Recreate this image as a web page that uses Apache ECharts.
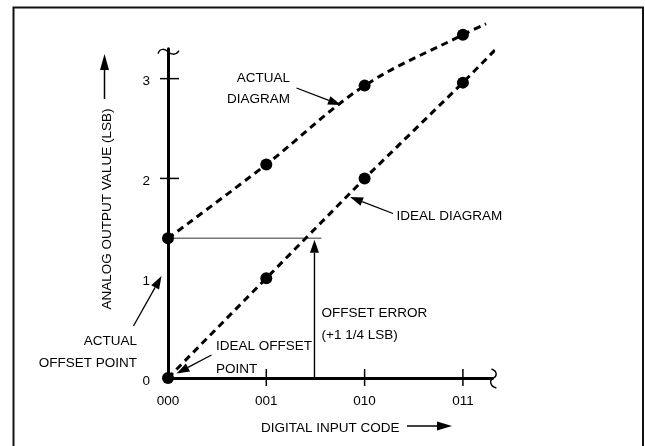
<!DOCTYPE html>
<html><head><meta charset="utf-8">
<script src="https://cdn.jsdelivr.net/npm/echarts@6/dist/echarts.min.js"></script>
<style>html,body{margin:0;padding:0;background:#fff}#c{width:645px;height:446px}</style>
</head><body><div id="c"></div>
<script>
// ---- data ----
const codeLabels = ['000', '001', '010', '011'];
const codeValues = [0, 1, 2, 3];
const yTickLabels = ['0', '1', '2', '3'];
const actualValues = [1.4, 2.14, 2.93, 3.44];
const actualTail = [3.235, 3.55];
const idealValues = [0, 1.0, 2.0, 2.96];
const idealTail = [3.42, 3.38];
const offsetError = 1.4;
const offsetArrowX = 1.49;
const offsetLineEnd = 1.56;
const xTickMarks = [1, 2, 3];
const yTickMarks = [2, 3];
const axisEnd = [3.3, 3.3];

// ---- rendering ----
const FONT = '"Liberation Sans", Arial, Helvetica, sans-serif';
const FS = 13.5;
const chart = echarts.init(document.getElementById('c'), null, {renderer: 'canvas'});

const actualLine = codeValues.map((x, i) => [x, actualValues[i]]).concat([actualTail]);
const idealLine = codeValues.map((x, i) => [x, idealValues[i]]).concat([idealTail]);
const actualDots = codeValues.map((x, i) => [x, actualValues[i]]);
const idealDots = codeValues.map((x, i) => [x, idealValues[i]]);

function arrowEls(x1, y1, x2, y2, head, hw, lw) {
  const dx = x2 - x1, dy = y2 - y1, L = Math.hypot(dx, dy);
  const ux = dx / L, uy = dy / L, px = -uy, py = ux;
  const bx = x2 - ux * head, by = y2 - uy * head;
  return [
    {type: 'line', shape: {x1: x1, y1: y1, x2: bx, y2: by}, style: {stroke: '#000', lineWidth: lw}},
    {type: 'polygon', shape: {points: [[x2, y2], [bx + px * hw, by + py * hw], [bx - px * hw, by - py * hw]]}, style: {fill: '#000'}}
  ];
}

function decor(params, api) {
  const ch = [];
  xTickMarks.forEach(v => {
    const p = api.coord([v, 0]);
    ch.push({type: 'line', shape: {x1: p[0], y1: p[1] - 9, x2: p[0], y2: p[1] + 8}, style: {stroke: '#000', lineWidth: 1.5}});
  });
  yTickMarks.forEach(v => {
    const p = api.coord([0, v]);
    ch.push({type: 'line', shape: {x1: p[0] - 8, y1: p[1], x2: p[0] + 11, y2: p[1]}, style: {stroke: '#000', lineWidth: 1.5}});
  });
  const t = api.coord([0, axisEnd[1]]);
  ch.push({type: 'bezierCurve', shape: {x1: t[0] - 10, y1: t[1] + 5, cpx1: t[0] - 8, cpy1: t[1] - 1, cpx2: t[0] - 3, cpy2: t[1] - 0, x2: t[0], y2: t[1] + 3}, style: {stroke: '#000', lineWidth: 1.4, fill: null}});
  ch.push({type: 'bezierCurve', shape: {x1: t[0], y1: t[1] + 3, cpx1: t[0] + 3, cpy1: t[1] + 6, cpx2: t[0] + 8, cpy2: t[1] + 7, x2: t[0] + 11, y2: t[1] + 2}, style: {stroke: '#000', lineWidth: 1.4, fill: null}});
  const r = api.coord([axisEnd[0], 0]);
  ch.push({type: 'bezierCurve', shape: {x1: r[0] - 1, y1: r[1] - 9, cpx1: r[0] + 5, cpy1: r[1] - 7, cpx2: r[0] + 5, cpy2: r[1] - 2, x2: r[0] + 1, y2: r[1]}, style: {stroke: '#000', lineWidth: 1.4, fill: null}});
  ch.push({type: 'bezierCurve', shape: {x1: r[0] + 1, y1: r[1], cpx1: r[0] - 3, cpy1: r[1] + 2, cpx2: r[0] - 3, cpy2: r[1] + 8, x2: r[0] + 4, y2: r[1] + 10}, style: {stroke: '#000', lineWidth: 1.4, fill: null}});
  const a = api.coord([0, offsetError]), b = api.coord([offsetLineEnd, offsetError]);
  ch.push({type: 'line', shape: {x1: a[0], y1: a[1], x2: b[0], y2: b[1]}, style: {stroke: '#777', lineWidth: 1.5}});
  const s = api.coord([offsetArrowX, 0]), e = api.coord([offsetArrowX, offsetError]);
  arrowEls(s[0], s[1], e[0], e[1] + 1.5, 13, 4.5, 1.4).forEach(el => ch.push(el));
  return {type: 'group', children: ch};
}

function txt(text, x, y, align) {
  return {type: 'text', x: x, y: y, style: {text: text, font: FS + 'px ' + FONT, fill: '#000', textAlign: align, textVerticalAlign: 'middle', align: align, verticalAlign: 'middle'}};
}

const graphics = [
  {type: 'rect', shape: {x: 13.5, y: 7.5, width: 629.5, height: 460}, style: {stroke: '#111', lineWidth: 2, fill: null}},
  txt('ACTUAL', 290, 78, 'right'),
  txt('DIAGRAM', 290, 99.5, 'right'),
  txt('IDEAL DIAGRAM', 396.5, 216.5, 'left'),
  txt('OFFSET ERROR', 321.5, 313.5, 'left'),
  txt('(+1 1/4 LSB)', 321.5, 335.5, 'left'),
  txt('ACTUAL', 137, 341.5, 'right'),
  txt('OFFSET POINT', 137, 363.5, 'right'),
  txt('IDEAL OFFSET', 216, 346.5, 'left'),
  txt('POINT', 216, 369, 'left'),
  txt('DIGITAL INPUT CODE', 261, 428.5, 'left'),
  {type: 'text', x: 107.5, y: 209, rotation: Math.PI / 2, style: {text: 'ANALOG OUTPUT VALUE (LSB)', font: FS + 'px ' + FONT, fill: '#000', textAlign: 'center', textVerticalAlign: 'middle', align: 'center', verticalAlign: 'middle'}}
]
  .concat(arrowEls(296.5, 88, 341, 105, 13, 4.5, 1.3))
  .concat(arrowEls(393, 213.5, 350, 197, 13, 4.5, 1.3))
  .concat(arrowEls(133.5, 326, 161.5, 276, 13, 4.5, 1.3))
  .concat(arrowEls(211.5, 355, 176.5, 373.5, 13, 4.5, 1.3))
  .concat(arrowEls(104.5, 99, 104.5, 54, 16, 4.5, 1.5))
  .concat(arrowEls(407, 426, 452, 426, 15, 4.5, 1.5));

chart.setOption({
  animation: false,
  backgroundColor: '#fff',
  grid: {left: 168, right: 152.6, top: 48.7, bottom: 68, containLabel: false, outerBoundsMode: 'none'},
  xAxis: {
    type: 'value', min: 0, max: axisEnd[0], interval: 1,
    axisLine: {show: true, lineStyle: {color: '#000', width: 3}},
    axisTick: {show: false}, splitLine: {show: false},
    axisLabel: {margin: 16, color: '#000', fontSize: FS, fontFamily: FONT,
      formatter: v => (Number.isInteger(v) && codeValues.indexOf(v) >= 0) ? codeLabels[codeValues.indexOf(v)] : ''}
  },
  yAxis: {
    type: 'value', min: 0, max: axisEnd[1], interval: 1,
    axisLine: {show: true, lineStyle: {color: '#000', width: 3}},
    axisTick: {show: false}, splitLine: {show: false},
    axisLabel: {margin: 18, color: '#000', fontSize: FS, fontFamily: FONT,
      rich: {d: {fontSize: FS, fontFamily: FONT, color: '#000', padding: [6, 0, 0, 0]}},
      formatter: v => Number.isInteger(v) && yTickLabels[v] ? '{d|' + yTickLabels[v] + '}' : ''}
  },
  graphic: graphics,
  series: [
    {type: 'custom', coordinateSystem: 'cartesian2d', data: [[0, 0]], renderItem: decor, clip: false, silent: true, z: 1},
    {type: 'line', data: actualLine, smooth: 0.35, showSymbol: false, clip: false, z: 3,
      lineStyle: {color: '#000', width: 3, type: [7, 5], cap: 'butt'}},
    {type: 'line', data: idealLine, smooth: false, showSymbol: false, clip: false, z: 3,
      lineStyle: {color: '#000', width: 3, type: [7, 5], cap: 'butt'}},
    {type: 'scatter', data: actualDots, symbol: 'circle', symbolSize: 12, itemStyle: {color: '#000', opacity: 1}, z: 4, clip: false},
    {type: 'scatter', data: idealDots, symbol: 'circle', symbolSize: 12, itemStyle: {color: '#000', opacity: 1}, z: 4, clip: false}
  ]
});
</script>
</body></html>
